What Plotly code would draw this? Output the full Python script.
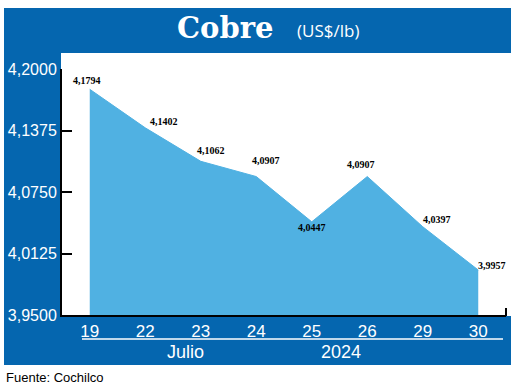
import plotly.graph_objects as go

# ---- data ----
days = ["19", "22", "23", "24", "25", "26", "29", "30"]
prices = [4.1794, 4.1402, 4.1062, 4.0907, 4.0447, 4.0907, 4.0397, 3.9957]
price_labels = ["4,1794", "4,1402", "4,1062", "4,0907", "4,0447", "4,0907", "4,0397", "3,9957"]
y_ticks = [3.95, 4.0125, 4.075, 4.1375, 4.2]
y_tick_labels = ["3,9500", "4,0125", "4,0750", "4,1375", "4,2000"]
title_main = "Cobre"
title_unit = "(US$/lb)"
month_label = "Julio"
year_label = "2024"
source = "Fuente: Cochilco"

# ---- styling / layout helpers ----
W, H = 520, 387
L, R, T, B = 62, 506, 69, 315
BLUE = "#0566AF"
FILL = "#50B1E2"
SANS = "Liberation Sans, Arial, sans-serif"

def px(x):
    return (x - L) / (R - L)

def py(y):
    return (B - y) / (B - T)

label_offsets = [(-3, 9), (19, 6), (10, 11), (10, 16), (0, -6), (-6, 12), (14, 7), (14, 5)]

fig = go.Figure()
fig.add_trace(go.Scatter(
    x=days, y=prices, mode="lines", fill="tozeroy",
    line=dict(color=FILL, width=1), fillcolor=FILL, hoverinfo="skip",
    showlegend=False,
))

shapes = [
    dict(type="rect", xref="paper", yref="paper", x0=px(4), x1=px(511), y0=py(365), y1=py(8),
         fillcolor=BLUE, line=dict(width=0), layer="below"),
    dict(type="rect", xref="paper", yref="paper", x0=px(61), x1=px(521), y0=py(316), y1=py(53),
         fillcolor="white", line=dict(width=0), layer="below"),
    dict(type="line", xref="paper", yref="paper", x0=px(82), x1=px(503), y0=py(339), y1=py(339),
         line=dict(color="white", width=1.5)),
    dict(type="line", xref="paper", yref="paper", x0=px(506), x1=px(506), y0=py(316), y1=py(308),
         line=dict(color="black", width=2)),
]

annotations = []
for i, (v, t, (dx, dy)) in enumerate(zip(prices, price_labels, label_offsets)):
    annotations.append(dict(
        x=i, y=v, xref="x", yref="y", text="<b>" + t + "</b>", showarrow=False,
        xshift=dx, yshift=dy, xanchor="center", yanchor="middle",
        font=dict(family="Liberation Serif, Times New Roman, serif", size=10, color="black"),
    ))

def paper_text(x, y, text, font, xanchor="center"):
    return dict(x=px(x), y=py(y), xref="paper", yref="paper", text=text, showarrow=False,
                xanchor=xanchor, yanchor="middle", font=font)

annotations += [
    paper_text(225, 28, "<b>" + title_main + "</b>",
               dict(family="DejaVu Serif, Liberation Serif, serif", size=29, color="white")),
    paper_text(328, 30, title_unit, dict(family="Open Sans, Noto Sans, sans-serif", size=17, color="white")),
    paper_text(185, 352, month_label, dict(family=SANS, size=18, color="white")),
    paper_text(341, 352, year_label, dict(family=SANS, size=18, color="white")),
    paper_text(4, 377, source, dict(family=SANS, size=13, color="black"), xanchor="left"),
]

fig.update_layout(
    width=W, height=H, autosize=False,
    margin=dict(l=L, r=W - R, t=T, b=H - B, pad=0, autoexpand=False),
    paper_bgcolor="white", plot_bgcolor="rgba(0,0,0,0)",
    shapes=shapes, annotations=annotations,
    xaxis=dict(type="category", range=[-0.5, 7.5], showgrid=False, zeroline=False, automargin=False,
               showline=True, linecolor="black", linewidth=2, ticks="",
               tickfont=dict(family=SANS, size=17, color="white")),
    yaxis=dict(range=[3.95, 4.2], tickvals=y_ticks, ticktext=y_tick_labels, automargin=False,
               showgrid=False, zeroline=False, showline=True, linecolor="black", linewidth=2,
               ticks="inside", ticklen=10, tickwidth=2, tickcolor="black",
               tickfont=dict(family=SANS, size=16, color="white")),
)

fig.write_html("out.html", config={"displayModeBar": False},
               post_script="document.body.style.margin='0';")
